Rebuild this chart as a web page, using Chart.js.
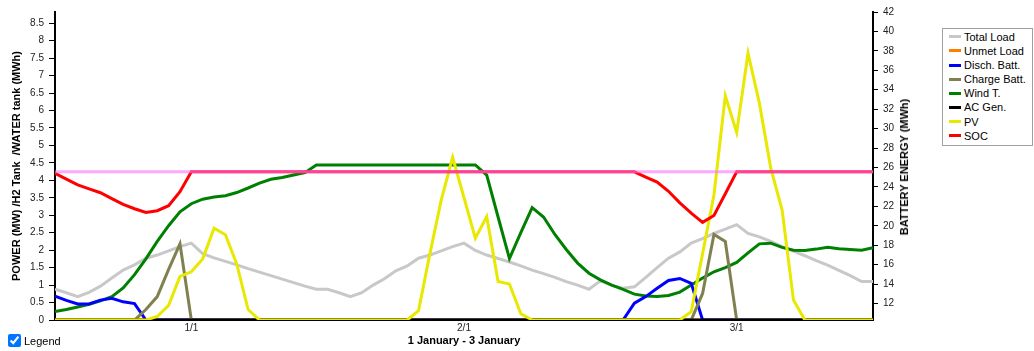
<!DOCTYPE html>
<html>
<head>
<meta charset="utf-8">
<title>Power balance 1 - 3 January</title>
<script src="https://cdn.jsdelivr.net/npm/chart.js@4.4.1/dist/chart.umd.min.js"></script>
<style>
  html, body { margin: 0; padding: 0; background: #fff; }
  body { position: relative; width: 1034px; height: 351px; overflow: hidden;
         font-family: "Liberation Sans", Arial, sans-serif; }
  #chartBox { position: absolute; left: 0; top: 0; }
  #rightTitle { position: absolute; left: 904px; top: 167px; transform: translate(-50%, -50%) rotate(-90deg);
                font-size: 11px; font-weight: bold; color: #000; white-space: nowrap; }
  #legendBox { position: absolute; left: 942px; top: 28px; width: 91px; height: 118px;
               box-sizing: border-box; border: 1px solid #a0a0a0; background: #fff; }
  .legItem { position: absolute; left: 0; height: 14px; font-size: 11px; line-height: 14px;
             white-space: nowrap; color: #000; }
  .legItem i { position: absolute; left: 6px; top: 5.5px; width: 12px; height: 3px; }
  .legItem span { position: absolute; left: 21px; top: 0; }
  #legendToggle { position: absolute; left: 8px; top: 334px; font-size: 11px; color: #000; }
  #legendToggle input { position: absolute; left: 0; top: 0; width: 13px; height: 13px; margin: 0; }
  #legendToggle span { position: absolute; left: 16px; top: 0; line-height: 14px; }
</style>
</head>
<body>
<canvas id="chartBox" width="1034" height="351"></canvas>
<div id="rightTitle">BATTERY ENERGY (MWh)</div>
<div id="legendBox"></div>
<label id="legendToggle"><input type="checkbox" id="showLegend" checked><span>Legend</span></label>
<script>
// hours from the start of the period, one point per hour
const hours = [0, 1, 2, 3, 4, 5, 6, 7, 8, 9, 10, 11, 12, 13, 14, 15, 16, 17, 18, 19, 20, 21, 22, 23,
  24, 25, 26, 27, 28, 29, 30, 31, 32, 33, 34, 35, 36, 37, 38, 39, 40, 41, 42, 43, 44, 45, 46, 47,
  48, 49, 50, 51, 52, 53, 54, 55, 56, 57, 58, 59, 60, 61, 62, 63, 64, 65, 66, 67, 68, 69, 70, 71, 72];

const tickHours = [12, 36, 60];
const tickLabels = ['1/1', '2/1', '3/1'];
const powerTicks = [0, 0.5, 1, 1.5, 2, 2.5, 3, 3.5, 4, 4.5, 5, 5.5, 6, 6.5, 7, 7.5, 8, 8.5];
const batteryTicks = [12, 14, 16, 18, 20, 22, 24, 26, 28, 30, 32, 34, 36, 38, 40, 42];

// MW
const totalLoad = [0.88, 0.78, 0.67, 0.79, 0.97, 1.2, 1.43, 1.58, 1.77, 1.86,
  1.98, 2.1, 2.2, 1.9, 1.78, 1.68, 1.58, 1.47, 1.37, 1.27,
  1.17, 1.07, 0.97, 0.88, 0.88, 0.78, 0.67, 0.78, 1.0, 1.18,
  1.41, 1.55, 1.77, 1.86, 1.98, 2.1, 2.2, 1.99, 1.86, 1.76,
  1.66, 1.55, 1.43, 1.33, 1.22, 1.1, 1.0, 0.88, 1.12, 1.0,
  0.91, 0.95, 1.22, 1.5, 1.77, 1.95, 2.2, 2.33, 2.48, 2.6,
  2.73, 2.48, 2.38, 2.25, 2.1, 1.97, 1.84, 1.7, 1.57, 1.42,
  1.27, 1.1, 1.1];
const unmetLoad = [0, 0, 0, 0, 0, 0, 0, 0, 0, 0, 0, 0, 0, 0, 0, 0, 0, 0, 0, 0, 0, 0, 0, 0,
  0, 0, 0, 0, 0, 0, 0, 0, 0, 0, 0, 0, 0, 0, 0, 0, 0, 0, 0, 0, 0, 0, 0, 0,
  0, 0, 0, 0, 0, 0, 0, 0, 0, 0, 0, 0, 0, 0, 0, 0, 0, 0, 0, 0, 0, 0, 0, 0, 0];
const dischBatt = [0.68, 0.56, 0.46, 0.46, 0.57, 0.62, 0.52, 0.47, 0, 0,
  0, 0, 0, 0, 0, 0, 0, 0, 0, 0, 0, 0, 0, 0, 0, 0, 0, 0, 0, 0,
  0, 0, 0, 0, 0, 0, 0, 0, 0, 0, 0, 0, 0, 0, 0, 0, 0, 0, 0, 0,
  0, 0.48, 0.67, 0.91, 1.13, 1.19, 1.05, 0, 0, 0,
  0, 0, 0, 0, 0, 0, 0, 0, 0, 0, 0, 0, 0];
const chargeBatt = [0, 0, 0, 0, 0, 0, 0, 0, 0.3, 0.67,
  1.45, 2.18, 0, 0, 0, 0, 0, 0, 0, 0, 0, 0, 0, 0, 0, 0, 0, 0, 0, 0,
  0, 0, 0, 0, 0, 0, 0, 0, 0, 0, 0, 0, 0, 0, 0, 0, 0, 0, 0, 0,
  0, 0, 0, 0, 0, 0, 0, 0.76, 2.45, 2.25,
  0, 0, 0, 0, 0, 0, 0, 0, 0, 0, 0, 0, 0];
const windT = [0.24, 0.3, 0.37, 0.45, 0.55, 0.67, 0.92, 1.3, 1.75, 2.25,
  2.7, 3.1, 3.33, 3.46, 3.52, 3.56, 3.65, 3.78, 3.92, 4.03,
  4.08, 4.15, 4.22, 4.44, 4.44, 4.44, 4.44, 4.44, 4.44, 4.44,
  4.44, 4.44, 4.44, 4.44, 4.44, 4.44, 4.44, 4.44, 4.15, 2.95,
  1.76, 2.5, 3.22, 2.95, 2.45, 2.02, 1.63, 1.34, 1.15, 1.0,
  0.88, 0.74, 0.69, 0.67, 0.7, 0.8, 1.0, 1.2, 1.38, 1.5,
  1.65, 1.92, 2.18, 2.2, 2.08, 2.0, 1.99, 2.03, 2.08, 2.04,
  2.02, 2.0, 2.07];
const acGen = [0, 0, 0, 0, 0, 0, 0, 0, 0, 0, 0, 0, 0, 0, 0, 0, 0, 0, 0, 0, 0, 0, 0, 0,
  0, 0, 0, 0, 0, 0, 0, 0, 0, 0, 0, 0, 0, 0, 0, 0, 0, 0, 0, 0, 0, 0, 0, 0,
  0, 0, 0, 0, 0, 0, 0, 0, 0, 0, 0, 0, 0, 0, 0, 0, 0, 0, 0, 0, 0, 0, 0, 0, 0];
const pv = [0, 0, 0, 0, 0, 0, 0, 0, 0, 0.1,
  0.42, 1.25, 1.38, 1.75, 2.63, 2.44, 1.6, 0.3, 0, 0,
  0, 0, 0, 0, 0, 0, 0, 0, 0, 0,
  0, 0, 0.27, 1.9, 3.44, 4.66, 3.5, 2.34, 2.96, 1.1,
  1.03, 0.18, 0, 0, 0, 0, 0, 0, 0, 0,
  0, 0, 0, 0, 0, 0, 0.24, 1.9, 3.58, 6.42,
  5.37, 7.64, 6.21, 4.35, 3.15, 0.57, 0, 0, 0, 0,
  0, 0, 0];
// MWh
const soc = [25.4, 24.8, 24.2, 23.8, 23.4, 22.8, 22.2, 21.75, 21.37, 21.55,
  22.06, 23.5, 25.55, 25.55, 25.55, 25.55, 25.55, 25.55, 25.55, 25.55,
  25.55, 25.55, 25.55, 25.55, 25.55, 25.55, 25.55, 25.55, 25.55, 25.55,
  25.55, 25.55, 25.55, 25.55, 25.55, 25.55, 25.55, 25.55, 25.55, 25.55,
  25.55, 25.55, 25.55, 25.55, 25.55, 25.55, 25.55, 25.55, 25.55, 25.55,
  25.55, 25.55, 25.0, 24.5, 23.55, 22.35, 21.3, 20.35, 21.05, 23.3,
  25.55, 25.55, 25.55, 25.55, 25.55, 25.55, 25.55, 25.55, 25.55, 25.55,
  25.55, 25.55, 25.55];
const socLimitHours = [0, 72];
const socLimit = [25.55, 25.55];

function toPoints(values, xs) {
  return values.map((v, i) => ({ x: xs[i], y: v }));
}

// legend order; "layer" = drawing order (lower is on top)
const series = [
  { label: 'Total Load',   values: totalLoad,  color: '#c8c8c8', axis: 'yPower',   layer: 7 },
  { label: 'Unmet Load',   values: unmetLoad,  color: '#ff8000', axis: 'yPower',   layer: 8 },
  { label: 'Disch. Batt.', values: dischBatt,  color: '#0000ff', axis: 'yPower',   layer: 5 },
  { label: 'Charge Batt.', values: chargeBatt, color: '#808050', axis: 'yPower',   layer: 4 },
  { label: 'Wind T.',      values: windT,      color: '#008000', axis: 'yPower',   layer: 6 },
  { label: 'AC Gen.',      values: acGen,      color: '#000000', axis: 'yPower',   layer: 3 },
  { label: 'PV',           values: pv,         color: '#e8e800', axis: 'yPower',   layer: 2 },
  { label: 'SOC',          values: soc,        color: '#ff0000', axis: 'yBattery', layer: 1 }
];

const datasets = series.map(s => ({
  label: s.label,
  data: toPoints(s.values, hours),
  borderColor: s.color,
  backgroundColor: s.color,
  yAxisID: s.axis,
  order: s.layer
}));
datasets.push({
  label: 'SOC max',
  data: toPoints(socLimit, socLimitHours),
  borderColor: 'rgba(255, 110, 255, 0.6)',
  yAxisID: 'yBattery',
  order: 0
});

Chart.defaults.font.family = "'Liberation Sans', Arial, sans-serif";
Chart.defaults.font.size = 10;
Chart.defaults.color = '#222';

const ctx = document.getElementById('chartBox').getContext('2d');
new Chart(ctx, {
  type: 'line',
  data: { datasets: datasets },
  options: {
    responsive: false,
    animation: false,
    layout: { padding: { left: 0, right: 121, top: 12, bottom: 0 } },
    plugins: { legend: { display: false }, tooltip: { enabled: false } },
    elements: {
      point: { radius: 0 },
      line: { tension: 0, borderWidth: 3, fill: false }
    },
    scales: {
      x: {
        type: 'linear',
        min: 0,
        max: 72,
        grid: { display: false, drawTicks: false },
        border: { display: true, color: '#000', width: 1 },
        afterBuildTicks: s => { s.ticks = tickHours.map(v => ({ value: v })); },
        ticks: {
          autoSkip: false, maxRotation: 0, padding: 2, color: '#222',
          callback: (v, i) => tickLabels[i]
        },
        title: {
          display: true, text: '1 January - 3 January', color: '#000',
          font: { size: 11, weight: 'bold' }, padding: { top: 0, bottom: 3 }
        },
        afterFit: s => { s.height = 31; }
      },
      yPower: {
        position: 'left',
        min: 0,
        max: 8.82,
        grid: { display: true, drawOnChartArea: false, drawTicks: true, tickLength: 6, color: '#000' },
        border: { display: true, color: '#000', width: 2 },
        afterBuildTicks: s => { s.ticks = powerTicks.map(v => ({ value: v })); },
        ticks: { padding: 5, color: '#222', callback: v => String(v) },
        title: {
          display: true, text: 'POWER (MW) /H2 Tank  /WATER tank (MWh)', color: '#000',
          font: { size: 11, weight: 'bold' }, padding: { top: 10, bottom: 0 }
        },
        afterFit: s => { s.width = 55; }
      },
      yBattery: {
        position: 'right',
        min: 10.3,
        max: 42,
        grid: { display: true, drawOnChartArea: false, drawTicks: true, tickLength: 5, color: '#000' },
        border: { display: true, color: '#000', width: 2 },
        afterBuildTicks: s => { s.ticks = batteryTicks.map(v => ({ value: v })); },
        ticks: { padding: 5, color: '#222', callback: v => String(v) },
        afterFit: s => { s.width = 40; }
      }
    }
  }
});

// legend box on the right
const legendBox = document.getElementById('legendBox');
series.forEach((s, i) => {
  const item = document.createElement('div');
  item.className = 'legItem';
  item.style.top = (0.7 + i * 14.15) + 'px';
  item.innerHTML = '<i style="background:' + s.color + '"></i><span>' + s.label + '</span>';
  legendBox.appendChild(item);
});
document.getElementById('showLegend').addEventListener('change', e => {
  legendBox.style.display = e.target.checked ? 'block' : 'none';
});
</script>
</body>
</html>
